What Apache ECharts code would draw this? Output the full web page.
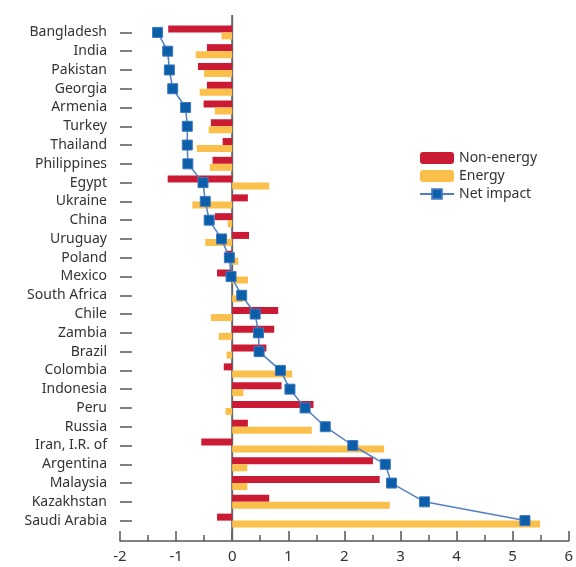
<!DOCTYPE html>
<html>
<head>
<meta charset="utf-8">
<script src="https://cdn.jsdelivr.net/npm/echarts@6/dist/echarts.min.js"></script>
<style>html,body{margin:0;padding:0;background:#fff}#c{width:576px;height:567px}</style>
</head>
<body>
<div id="c"></div>
<script>
const categories = ["Bangladesh","India","Pakistan","Georgia","Armenia","Turkey","Thailand","Philippines","Egypt","Ukraine","China","Uruguay","Poland","Mexico","South Africa","Chile","Zambia","Brazil","Colombia","Indonesia","Peru","Russia","Iran, I.R. of","Argentina","Malaysia","Kazakhstan","Saudi Arabia"];
const nonEnergy = [-1.14,-0.45,-0.61,-0.45,-0.51,-0.38,-0.17,-0.35,-1.15,0.28,-0.31,0.30,-0.12,-0.27,0.0,0.82,0.75,0.61,-0.15,0.88,1.45,0.28,-0.55,2.51,2.63,0.66,-0.27];
const energy = [-0.19,-0.65,-0.50,-0.58,-0.31,-0.42,-0.63,-0.40,0.66,-0.71,-0.08,-0.48,0.11,0.28,0.19,-0.38,-0.24,-0.10,1.07,0.20,-0.12,1.42,2.71,0.27,0.27,2.81,5.49];
const netImpact = [-1.33,-1.15,-1.12,-1.06,-0.83,-0.80,-0.80,-0.79,-0.52,-0.48,-0.41,-0.19,-0.05,-0.02,0.17,0.41,0.47,0.48,0.86,1.03,1.30,1.66,2.15,2.73,2.84,3.43,5.22];
const xTicks = {min:-2, max:6, interval:1};

const FONT = "Noto Sans";
const chart = echarts.init(document.getElementById('c'), null, {renderer:'canvas'});
chart.setOption({
  animation:false,
  textStyle:{fontFamily:FONT},
  grid:{left:120, right:4, top:23, bottom:37, containLabel:false},
  legend:{
    orient:'vertical', left:414, top:146, itemWidth:34, itemHeight:12, itemGap:4,
    textStyle:{fontSize:14, color:'#333', fontFamily:FONT},
    data:['Non-energy','Energy','Net impact']
  },
  xAxis:{
    type:'value', min:xTicks.min, max:xTicks.max, interval:xTicks.interval, offset:11,
    axisLine:{show:true, lineStyle:{color:'#555', width:1.5}},
    axisTick:{show:true, inside:true, length:10, lineStyle:{color:'#555', width:1.5}},
    minorTick:{show:true, splitNumber:2, length:6, lineStyle:{color:'#555', width:1.5}},
    splitLine:{show:false},
    axisLabel:{fontSize:15, color:'#333', margin:8, fontFamily:FONT}
  },
  yAxis:{
    type:'category', data:categories, inverse:true,
    axisLine:{show:false, onZero:false},
    axisTick:{show:true, inside:true, alignWithLabel:true, length:12, lineStyle:{color:'#555', width:1.5}},
    axisLabel:{fontSize:14, color:'#333', margin:13, fontFamily:FONT},
    splitLine:{show:false}
  },
  series:[
    {name:'Non-energy', type:'bar', data:nonEnergy, barWidth:7, barGap:'0%', itemStyle:{color:'#cb1a33'}},
    {name:'Energy', type:'bar', data:energy, barWidth:7, barGap:'0%', itemStyle:{color:'#fbbf4b'}},
    {name:'Net impact', type:'line', data:netImpact, symbol:'rect', symbolSize:10,
     lineStyle:{color:'#4f7fc2', width:1.5}, itemStyle:{color:'#0b5ea8', borderColor:'#3f78bf', borderWidth:1}, z:5}
  ]
});
const x0 = chart.convertToPixel({xAxisIndex:0}, 0);
chart.setOption({graphic:[{type:'line', z:1, shape:{x1:x0, y1:15, x2:x0, y2:541}, style:{stroke:'#666', lineWidth:2}}]});
</script>
</body>
</html>
